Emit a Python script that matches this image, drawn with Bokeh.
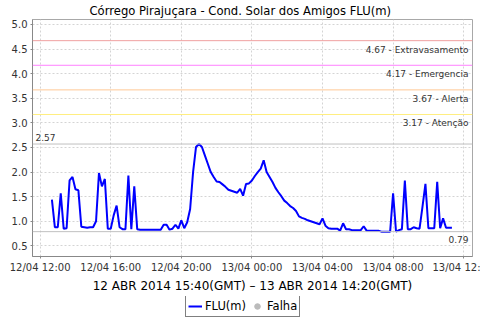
import pandas as pd
from bokeh.plotting import figure
from bokeh.layouts import column
from bokeh.models import (Range1d, FixedTicker, Span, Label, Legend, LegendItem,
                          ColumnDataSource, NumeralTickFormatter)
from bokeh.embed import file_html
from bokeh.resources import INLINE

# ---------------- data ----------------
start_time = "2014-04-12 12:40"
step = "10min"
flu_values = [
    1.44, 0.88, 0.88, 1.57, 0.85, 0.86, 1.83, 1.90, 1.65, 1.63,
    0.89, 0.88, 0.87, 0.88, 0.88, 1.00, 1.98, 1.71, 1.86, 0.85,
    0.85, 1.12, 1.32, 0.88, 0.84, 0.84, 1.93, 0.84, 1.71, 0.84,
    0.83, 0.83, 0.83, 0.83, 0.83, 0.83, 0.83, 0.83, 0.93, 0.93,
    0.83, 0.85, 0.93, 0.85, 1.02, 0.86, 0.98, 1.25, 2.00, 2.51,
    2.57, 2.51, 2.34, 2.17, 2.00, 1.90, 1.81, 1.80, 1.75, 1.70,
    1.64, 1.62, 1.60, 1.58, 1.66, 1.52, 1.76, 1.77, 1.83, 1.92,
    2.00, 2.07, 2.24, 2.00, 1.90, 1.80, 1.68, 1.59, 1.51, 1.42,
    1.37, 1.31, 1.27, 1.21, 1.10, 1.07, 1.05, 1.02, 1.00, 0.98,
    0.96, 0.94, 1.06, 0.91, 0.86, 0.85, 0.85, 0.85, 0.81, 0.96,
    0.84, 0.84, 0.82, 0.82, 0.82, 0.82, 0.90, 0.81, 0.81, 0.81,
    0.81, 0.81, 0.79, 0.79, 0.79, 0.79, 1.57, 0.79, 0.82, 0.84,
    1.83, 0.84, 0.84, 0.88, 0.86, 0.85, 1.30, 1.76, 0.86, 0.86,
    0.86, 1.80, 0.86, 1.06, 0.87, 0.87, 0.87,
]
# no failures recorded in the period (one empty placeholder reading)
falha_times = [pd.Timestamp(start_time)]
falha_values = [float("nan")]

threshold_values = [4.67, 4.17, 3.67, 3.17]
threshold_names = ["Extravasamento", "Emergencia", "Alerta", "Atenção"]
threshold_colors = ["#f0a0a0", "#ff80ff", "#ffc896", "#ffee80"]

x_tick_times = ["2014-04-12 12:00", "2014-04-12 16:00", "2014-04-12 20:00",
                "2014-04-13 00:00", "2014-04-13 04:00", "2014-04-13 08:00",
                "2014-04-13 12:00"]
x_tick_labels = ["12/04 12:00", "12/04 16:00", "12/04 20:00", "13/04 00:00",
                 "13/04 04:00", "13/04 08:00", "13/04 12:"]
y_ticks = [0.5, 1.0, 1.5, 2.0, 2.5, 3.0, 3.5, 4.0, 4.5, 5.0]

title_text = "Córrego Pirajuçara - Cond. Solar dos Amigos FLU(m)"
xlabel_text = "12 ABR 2014 15:40(GMT) – 13 ABR 2014 14:20(GMT)"
legend_labels = ["FLU(m)", "Falha"]

x_start = "2014-04-12 11:34"
x_end = "2014-04-13 12:30"
y_start, y_end = 0.285, 5.10

# ---------------- main figure ----------------
FONT = "DejaVu Sans"
times = pd.date_range(start=start_time, periods=len(flu_values), freq=step)
src = ColumnDataSource(dict(t=times, v=flu_values))
falha_src = ColumnDataSource(dict(t=falha_times, v=falha_values))

p = figure(width=480, height=296, output_backend="svg", toolbar_location=None,
           x_axis_type="datetime",
           x_range=Range1d(pd.Timestamp(x_start), pd.Timestamp(x_end)),
           y_range=Range1d(y_start, y_end),
           min_border_left=32, min_border_right=8, min_border_top=19,
           min_border_bottom=40)
p.background_fill_color = "white"
p.border_fill_color = "white"
p.outline_line_color = "#a8a8a8"

p.title.text = title_text
p.title.align = "left"
p.title.offset = 57
p.title.standoff = 3
p.title.text_font = FONT
p.title.text_font_size = "11.6px"
p.title.text_font_style = "normal"
p.title.text_color = "#000000"

tick_ms = [pd.Timestamp(t).value // 10**6 for t in x_tick_times]
p.xaxis.ticker = FixedTicker(ticks=tick_ms)
p.xaxis.major_label_overrides = {ms: lab for ms, lab in zip(tick_ms, x_tick_labels)}
p.yaxis.ticker = FixedTicker(ticks=y_ticks)
p.yaxis.formatter = NumeralTickFormatter(format="0.0")

for ax in (p.xaxis[0], p.yaxis[0]):
    ax.axis_line_color = "#888888"
    ax.major_tick_line_color = "#888888"
    ax.major_tick_out = 2
    ax.major_tick_in = 0
    ax.minor_tick_out = 0
    ax.minor_tick_in = 0
    ax.major_label_text_font = FONT
    ax.major_label_text_font_size = "10px"
    ax.major_label_text_color = "#333333"
    ax.major_label_standoff = 3

p.xaxis.axis_label = xlabel_text
p.xaxis.axis_label_text_font = FONT
p.xaxis.axis_label_text_font_size = "12px"
p.xaxis.axis_label_text_font_style = "normal"
p.xaxis.axis_label_text_color = "#000000"
p.xaxis.axis_label_standoff = 3

for g in (p.xgrid[0], p.ygrid[0]):
    g.grid_line_color = "#d4d4d4"
    g.grid_line_dash = "2 2"
    g.grid_line_width = 1

for val, name, col in zip(threshold_values, threshold_names, threshold_colors):
    p.add_layout(Span(location=val, dimension="width", line_color=col, line_width=1))
    p.add_layout(Label(x=pd.Timestamp(x_end), y=val, x_offset=-4, y_offset=-4,
                       text=f"{val:.2f} - {name}", text_align="right",
                       text_baseline="top", text_font=FONT,
                       text_font_size="9px", text_color="#333333"))

vmax = max(flu_values)
vmin = min(flu_values)
p.add_layout(Span(location=vmax, dimension="width", line_color="#c0c0c0", line_width=1))
p.add_layout(Span(location=vmin, dimension="width", line_color="#c0c0c0", line_width=1))
p.add_layout(Label(x=pd.Timestamp(x_start), y=vmax, x_offset=3, y_offset=3,
                   text=f"{vmax:.2f}", text_align="left", text_baseline="bottom",
                   text_font=FONT, text_font_size="9px", text_color="#333333"))
p.add_layout(Label(x=pd.Timestamp(x_end), y=vmin, x_offset=-4, y_offset=-4,
                   text=f"{vmin:.2f}", text_align="right", text_baseline="top",
                   text_font=FONT, text_font_size="9px", text_color="#333333"))

p.line("t", "v", source=src, line_color="#0000ff", line_width=2)
p.scatter("t", "v", source=falha_src, size=9, color="#bbbbbb")

# ---------------- legend strip ----------------
lg = figure(width=480, height=24, output_backend="svg", toolbar_location=None,
            x_axis_type="datetime", x_axis_location=None, y_axis_location=None,
            x_range=Range1d(pd.Timestamp(x_start), pd.Timestamp(x_end)),
            y_range=Range1d(100, 101),
            min_border_left=0, min_border_right=0, min_border_top=0,
            min_border_bottom=0)
lg.outline_line_color = None
lg.grid.visible = False
lg.background_fill_color = "white"
lg.border_fill_color = "white"
l_line = lg.line("t", "v", source=src, line_color="#0000ff", line_width=2)
l_falha = lg.scatter("t", "v", source=falha_src, size=9, color="#bbbbbb")

legend = Legend(items=[LegendItem(label=legend_labels[0], renderers=[l_line]),
                       LegendItem(label=legend_labels[1], renderers=[l_falha])],
                location=(153, 3), orientation="horizontal",
                border_line_color="#000000", border_line_width=1,
                background_fill_color="white", background_fill_alpha=1.0,
                label_text_font=FONT, label_text_font_size="11.5px",
                label_text_color="#000000",
                label_height=16, glyph_width=14, glyph_height=16,
                padding=2, spacing=4, label_standoff=3, margin=0)
lg.add_layout(legend, "center")

layout = column(p, lg, spacing=0)
open("out.html", "w").write(file_html(layout, INLINE))
